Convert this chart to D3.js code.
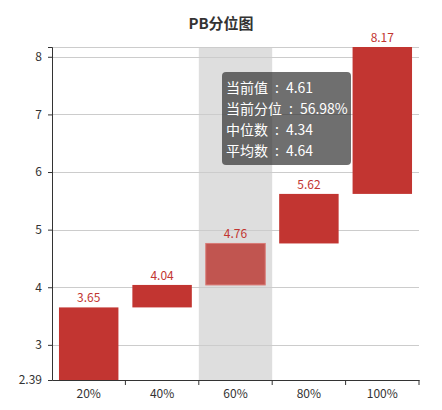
<!DOCTYPE html>
<html>
<head>
<meta charset="utf-8">
<script src="https://cdn.jsdelivr.net/npm/d3@7"></script>
<style>
  body { margin: 0; background: #fff; }
  svg { display: block; font-family: "Noto Sans CJK SC", "Open Sans", sans-serif; }
</style>
</head>
<body>
<svg id="chart" width="442" height="410"></svg>
<script>
// PB quantile chart
var categories = ['20%', '40%', '60%', '80%', '100%']
var quantiles = [3.65, 4.04, 4.76, 5.62, 8.17]
var minPb = 2.39
var yTicks = [3, 4, 5, 6, 7, 8]
var currentIndex = 2
var tipLabels = ['当前值', '当前分位', '中位数', '平均数']
var tipValues = ['4.61', '56.98%', '4.34', '4.64']

var svg = d3.select('#chart')
var margin = { top: 47, right: 23, bottom: 30, left: 52 }
var width = 442 - margin.left - margin.right
var height = 410 - margin.top - margin.bottom

var x = d3.scaleBand().domain(categories).range([0, width]).paddingInner(0).paddingOuter(0)
var y = d3.scaleLinear().domain([minPb, d3.max(quantiles)]).range([height, 0])

svg.append('text')
  .attr('x', 221).attr('y', 29)
  .attr('text-anchor', 'middle')
  .attr('font-size', 15).attr('font-weight', 'bold').attr('fill', '#333')
  .text('PB分位图')

var g = svg.append('g').attr('transform', 'translate(' + margin.left + ',' + margin.top + ')')

// hover shadow on current band
g.append('rect')
  .attr('x', x(categories[currentIndex])).attr('y', 0)
  .attr('width', x.bandwidth()).attr('height', height)
  .attr('fill', '#dedede')

// grid lines
var gridVals = yTicks.concat([d3.max(quantiles)])
g.selectAll('.grid').data(gridVals).enter().append('line')
  .attr('class', 'grid')
  .attr('x1', 0).attr('x2', width)
  .attr('y1', function (d) { return Math.round(y(d)) + 0.5 })
  .attr('y2', function (d) { return Math.round(y(d)) + 0.5 })
  .attr('stroke', '#ccc')

// floating bars: each bar spans previous quantile -> this quantile
var bars = quantiles.map(function (v, i) {
  return { cat: categories[i], lo: i === 0 ? minPb : quantiles[i - 1], hi: v, i: i }
})

var inset = x.bandwidth() * 0.095
g.selectAll('.bar').data(bars).enter().append('rect')
  .attr('class', 'bar')
  .attr('x', function (d) { return x(d.cat) + inset })
  .attr('y', function (d) { return y(d.hi) })
  .attr('width', x.bandwidth() - inset * 2)
  .attr('height', function (d) { return y(d.lo) - y(d.hi) })
  .attr('fill', function (d) { return d.i === currentIndex ? '#c15550' : '#c23531' })
  .attr('stroke', function (d) { return d.i === currentIndex ? '#d97a76' : 'none' })
  .attr('stroke-width', 1)

g.selectAll('.val').data(bars).enter().append('text')
  .attr('class', 'val')
  .attr('x', function (d) { return x(d.cat) + x.bandwidth() / 2 })
  .attr('y', function (d) { return y(d.hi) - 5 })
  .attr('text-anchor', 'middle')
  .attr('font-size', 12).attr('fill', '#c23531')
  .text(function (d) { return d.hi.toFixed(2) })

// axes
var yAxis = d3.axisLeft(y).tickValues([minPb].concat(gridVals)).tickSize(4).tickPadding(6)
  .tickFormat(function (d) { return d === d3.max(quantiles) ? '' : (d === minPb ? d.toFixed(2) : d) })
var ya = g.append('g').call(yAxis)
ya.select('.domain').attr('stroke', '#333')
ya.selectAll('line').attr('stroke', '#333')
ya.selectAll('text').attr('font-size', 12).attr('fill', '#333')
  .attr('font-family', '"Noto Sans CJK SC", sans-serif')

var xAxis = d3.axisBottom(x).tickSize(0).tickPadding(9)
var xa = g.append('g').attr('transform', 'translate(0,' + height + ')').call(xAxis)
xa.select('.domain').attr('stroke', '#333')
xa.selectAll('text').attr('font-size', 12).attr('fill', '#333')
  .attr('font-family', '"Noto Sans CJK SC", sans-serif')
// tick marks at band boundaries
xa.selectAll('.bound').data(categories.slice(1).concat([null])).enter().append('line')
  .attr('class', 'bound')
  .attr('x1', function (d) { return d ? x(d) : width })
  .attr('x2', function (d) { return d ? x(d) : width })
  .attr('y1', 0).attr('y2', 5)
  .attr('stroke', '#333')

// tooltip
var tip = svg.append('g').attr('transform', 'translate(222,72)')
tip.append('rect')
  .attr('width', 129).attr('height', 93).attr('rx', 4)
  .attr('fill', 'rgba(50,50,50,0.7)')
tip.selectAll('text').data(tipLabels).enter().append('text')
  .attr('x', 4)
  .attr('y', function (d, i) { return 21 + i * 21 })
  .attr('font-size', 14).attr('fill', '#fff')
  .text(function (d, i) { return d + '\u2002:\u2002' + tipValues[i] })
</script>
</body>
</html>
